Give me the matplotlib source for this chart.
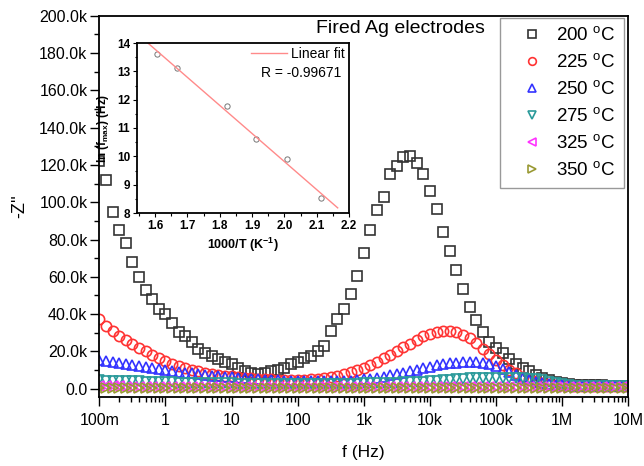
import numpy as np
import matplotlib
matplotlib.use("Agg")
import matplotlib.pyplot as plt
from matplotlib.ticker import FixedLocator, LogLocator, NullFormatter, MultipleLocator

plt.rcParams['font.family'] = ['Liberation Sans', 'DejaVu Sans']
plt.rcParams['mathtext.fontset'] = 'custom'
plt.rcParams['mathtext.rm'] = 'Liberation Sans'
plt.rcParams['mathtext.it'] = 'Liberation Sans:italic'
plt.rcParams['mathtext.bf'] = 'Liberation Sans:bold'

# ---------------- data ----------------
log_freq = [-1.0 + 0.1 * i for i in range(81)]  # 0.1 Hz .. 10 MHz, 10 pts/decade

z_200 = [122, 112, 95, 85, 78, 68, 60, 53, 48, 43,
         40, 35, 30.5, 28, 25, 21.5, 19, 17.5, 16, 14.5,
         13.5, 11, 9.5, 8.5, 8.0, 8.2, 9.5, 10.2, 11.0, 13.5,
         14.5, 16.4, 17.5, 20, 23, 31, 37.5, 43, 51, 60.5,
         73, 85, 96, 103, 115, 119.5, 124, 125, 121, 115,
         106, 96.5, 84, 74, 63.5, 53.5, 44, 37, 30.5, 25.3,
         21.8, 19, 16, 13.2, 11, 9.3, 7.5, 5.7, 4.5, 3.6,
         3.0, 2.5, 2.2, 2.0, 1.9, 1.8, 1.8, 1.7, 1.7, 1.7, 1.7]
z_225 = [37.3, 33.5, 31, 28.5, 26.2, 24, 22, 20, 18, 16.5,
         15, 13.5, 12.3, 11.2, 10.2, 9.3, 8.6, 8.0, 7.5, 7.0,
         6.6, 6.2, 5.9, 5.6, 5.4, 5.2, 5.0, 4.9, 4.8, 4.8,
         4.8, 4.9, 5.1, 5.4, 5.8, 6.3, 7.0, 7.8, 8.8, 10.0,
         11.3, 12.8, 14.5, 16.3, 18.2, 20.2, 22.2, 24.2, 26.2, 28.0,
         29.4, 30.4, 31.0, 31.0, 30.4, 29.0, 27.0, 24.5, 21.5, 18.5,
         15.5, 12.8, 10.3, 8.2, 6.5, 5.0, 4.0, 3.2, 2.6, 2.2,
         2.0, 1.8, 1.7, 1.6, 1.6, 1.5, 1.5, 1.5, 1.5, 1.5, 1.5]
z_250 = [15.5, 14.8, 14.2, 13.6, 13.0, 12.5, 12.0, 11.5, 11.0, 10.5,
         10.0, 9.5, 9.0, 8.6, 8.2, 7.8, 7.4, 7.0, 6.7, 6.4,
         6.1, 5.8, 5.5, 5.3, 5.1, 4.9, 4.7, 4.5, 4.4, 4.3,
         4.2, 4.1, 4.0, 4.0, 4.0, 4.0, 4.1, 4.2, 4.4, 4.7,
         5.0, 5.4, 5.9, 6.5, 7.2, 7.9, 8.6, 9.4, 10.2, 11.0,
         11.8, 12.5, 13.1, 13.6, 14.0, 14.2, 14.3, 14.2, 13.8, 13.0,
         12.0, 10.6, 9.0, 7.4, 6.0, 4.8, 3.8, 3.0, 2.5, 2.1,
         1.9, 1.7, 1.6, 1.5, 1.5, 1.4, 1.4, 1.4, 1.4, 1.4, 1.4]
z_275 = [4.5, 4.4, 4.3, 4.2, 4.1, 4.0, 3.9, 3.8, 3.7, 3.6,
         3.5, 3.4, 3.3, 3.2, 3.1, 3.0, 3.0, 2.9, 2.9, 2.8,
         2.8, 2.7, 2.7, 2.7, 2.6, 2.6, 2.6, 2.6, 2.6, 2.6,
         2.6, 2.6, 2.6, 2.6, 2.6, 2.6, 2.6, 2.6, 2.7, 2.7,
         2.8, 2.9, 3.0, 3.1, 3.2, 3.3, 3.4, 3.5, 3.6, 3.7,
         4.0, 4.3, 4.6, 4.9, 5.2, 5.4, 5.6, 5.8, 5.9, 6.0,
         6.0, 6.0, 6.0, 5.9, 5.7, 5.4, 5.0, 4.6, 3.8, 3.0,
         2.3, 1.8, 1.5, 1.4, 1.3, 1.3, 1.3, 1.3, 1.3, 1.3, 1.3]
z_325 = [1.2, 1.2, 1.2, 1.2, 1.1, 1.1, 1.1, 1.1, 1.1, 1.1,
         1.1, 1.1, 1.0, 1.0, 1.0, 1.0, 1.0, 1.0, 1.0, 1.0,
         1.0, 1.0, 1.0, 1.0, 1.0, 1.0, 1.0, 1.0, 1.0, 1.0,
         1.0, 1.0, 1.0, 1.0, 1.0, 1.0, 1.0, 1.0, 1.0, 1.0,
         1.0, 1.0, 1.0, 1.0, 1.0, 1.0, 1.0, 1.0, 1.0, 1.0,
         1.0, 1.0, 1.0, 1.0, 1.0, 1.0, 1.0, 1.0, 1.0, 1.0,
         1.0, 1.0, 1.0, 1.0, 1.0, 1.0, 1.0, 1.0, 1.0, 1.0,
         1.0, 1.0, 1.0, 1.0, 1.0, 1.0, 1.0, 1.0, 1.0, 1.0, 1.0]
z_350 = [0.4, 0.4, 0.4, 0.4, 0.4, 0.4, 0.3, 0.3, 0.3, 0.3,
         0.3, 0.3, 0.3, 0.3, 0.3, 0.3, 0.3, 0.3, 0.3, 0.3,
         0.3, 0.3, 0.3, 0.3, 0.3, 0.3, 0.3, 0.3, 0.3, 0.3,
         0.3, 0.3, 0.3, 0.3, 0.3, 0.3, 0.3, 0.3, 0.3, 0.3,
         0.3, 0.3, 0.3, 0.3, 0.3, 0.3, 0.3, 0.3, 0.3, 0.3,
         0.3, 0.3, 0.3, 0.3, 0.3, 0.3, 0.3, 0.3, 0.3, 0.3,
         0.3, 0.3, 0.3, 0.3, 0.3, 0.3, 0.3, 0.3, 0.3, 0.3,
         0.3, 0.3, 0.3, 0.3, 0.3, 0.3, 0.3, 0.3, 0.3, 0.3, 0.3]

series_labels = ["200", "225", "250", "275", "325", "350"]

x_ticks = [0.1, 1, 10, 100, 1e3, 1e4, 1e5, 1e6, 1e7]
x_tick_labels = ["100m", "1", "10", "100", "1k", "10k", "100k", "1M", "10M"]
y_ticks = [0, 20e3, 40e3, 60e3, 80e3, 100e3, 120e3, 140e3, 160e3, 180e3, 200e3]
y_tick_labels = ["0.0", "20.0k", "40.0k", "60.0k", "80.0k", "100.0k",
                 "120.0k", "140.0k", "160.0k", "180.0k", "200.0k"]

# inset: Arrhenius data
inv_T = [1.605, 1.668, 1.822, 1.911, 2.007, 2.114]
ln_fmax = [13.61, 13.12, 11.76, 10.61, 9.91, 8.53]
fit_range = [1.55, 2.165]

# ---------------- plotting ----------------
W, H = 644, 466
fig = plt.figure(figsize=(W / 100, H / 100), dpi=100)
ax = fig.add_axes([99.3 / W, 1 - 397.3 / H, 529 / W, 381.6 / H])

freq = 10 ** np.array(log_freq)
styles = [
    ("s", "#333333"),
    ("o", "#ff3333"),
    ("^", "#3333ff"),
    ("v", "#2a9a9a"),
    ("<", "#ff33ff"),
    (">", "#999933"),
]
all_z = [z_200, z_225, z_250, z_275, z_325, z_350]
for z, (m, c), lab in zip(all_z, styles, series_labels):
    ax.plot(freq, np.array(z) * 1e3, linestyle="none", marker=m, markersize=7.4,
            markerfacecolor="none", markeredgecolor=c, markeredgewidth=1.2,
            label=lab + r" $^{\mathrm{o}}$C")

ax.set_xscale("log")
ax.set_xlim(0.1, 1e7)
ax.set_ylim(-4.6e3, 200e3)
ax.xaxis.set_major_locator(FixedLocator(x_ticks))
ax.set_xticklabels(x_tick_labels)
ax.xaxis.set_minor_locator(LogLocator(base=10, subs=np.arange(2, 10)))
ax.xaxis.set_minor_formatter(NullFormatter())
ax.set_yticks(y_ticks)
ax.set_yticklabels(y_tick_labels)
ax.yaxis.set_minor_locator(MultipleLocator(10e3))

ax.tick_params(axis="both", which="major", direction="out", length=6.5, width=1.0,
               labelsize=11.5, colors="black")
ax.tick_params(axis="both", which="minor", direction="out", length=3.5, width=1.0)
ax.tick_params(axis="x", which="major", pad=5)
ax.tick_params(axis="y", which="major", pad=2)
for s in ax.spines.values():
    s.set_linewidth(1.3)

ax.set_xlabel("f (Hz)", fontsize=12.5)
ax.xaxis.set_label_coords(0.5, -0.125)
ax.set_ylabel("-Z''", fontsize=13)
ax.yaxis.set_label_coords(-0.135, 0.5)

ax.text(0.409, 0.99, "Fired Ag electrodes", transform=ax.transAxes,
        fontsize=14, ha="left", va="top")

leg = ax.legend(loc="upper right", bbox_to_anchor=(0.992, 0.994), borderaxespad=0,
                fontsize=13.5, markerscale=0.75, frameon=True, fancybox=False,
                edgecolor="#808080", handletextpad=0.05, labelspacing=0.48,
                borderpad=0.45, handlelength=2.5, markerfirst=True)
leg.get_frame().set_linewidth(1.0)

# inset
axi = fig.add_axes([137 / W, 1 - 213 / H, 212 / W, 170 / H])
axi.plot(inv_T, ln_fmax, linestyle="none", marker="o", markersize=3.8,
         markerfacecolor="none", markeredgecolor="#777777", markeredgewidth=0.7)
coef = np.polyfit(inv_T, ln_fmax, 1)
fx = np.array(fit_range)
axi.plot(fx, np.polyval(coef, fx), color="#ff8a8a", linewidth=1.0, label="Linear fit")
axi.set_xlim(1.544, 2.2)
axi.set_ylim(8, 14)
axi.xaxis.set_major_locator(MultipleLocator(0.1))
axi.xaxis.set_minor_locator(MultipleLocator(0.05))
axi.yaxis.set_major_locator(MultipleLocator(1))
axi.yaxis.set_minor_locator(MultipleLocator(0.5))
axi.xaxis.set_major_formatter(matplotlib.ticker.FormatStrFormatter("%.1f"))
axi.tick_params(axis="both", which="major", direction="out", length=3, width=0.8,
                labelsize=8.5, pad=2)
axi.tick_params(axis="both", which="minor", direction="out", length=1.8, width=0.8)
for lbl in axi.get_xticklabels() + axi.get_yticklabels():
    lbl.set_fontweight("bold")
for s in axi.spines.values():
    s.set_linewidth(1.3)
axi.set_xlabel(r"1000/T (K$^{\mathbf{-1}}$)", fontsize=9, fontweight="bold", labelpad=3)
axi.set_ylabel(r"ln (f$_{\mathbf{max}}$) (Hz)", fontsize=8.5, fontweight="bold", labelpad=4)
ileg = axi.legend(loc="upper right", fontsize=10, frameon=False, handlelength=2.6,
                  handletextpad=0.3, borderaxespad=0.1, borderpad=0.2)
axi.text(0.965, 0.825, "R = -0.99671", transform=axi.transAxes, fontsize=10,
         ha="right", va="center")

fig.savefig("out.png", dpi=100)
